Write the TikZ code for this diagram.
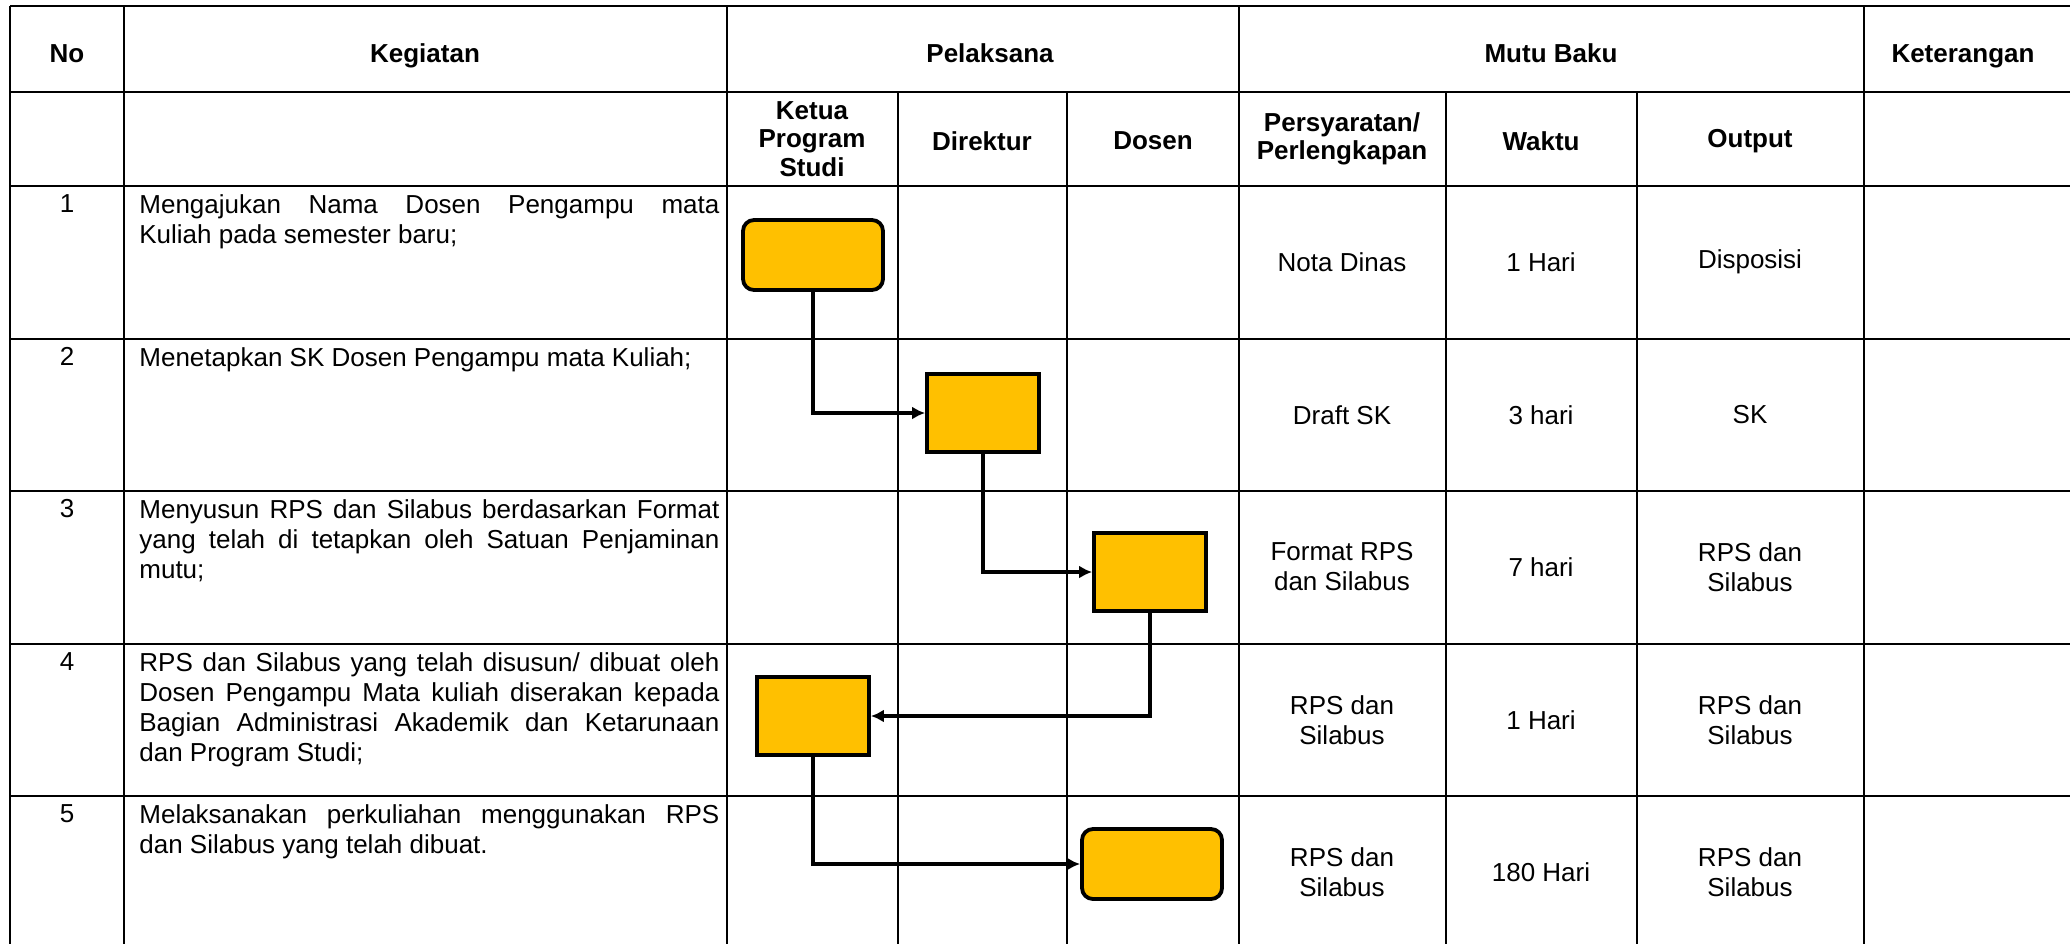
\documentclass[tikz,border=0pt]{standalone}
\usepackage{fontspec}
\setmainfont{Liberation Sans}
\usepackage{tikz}
\usetikzlibrary{positioning, arrows.meta}
\definecolor{boxgold}{HTML}{FFC000}
\newcommand{\tabfont}{\fontsize{13}{15}\selectfont}
\newcommand{\headfont}{\fontsize{13}{14.25}\selectfont\bfseries}
\tikzset{x=0.5pt, y=-0.5pt, >={Latex[length=6.5pt, width=6.5pt]},
	grid/.style={line width=0.9pt},
	flow/.style={->, line width=1.8pt},
	act/.style={rectangle, draw, line width=1.9pt, fill=boxgold, minimum width=56pt, minimum height=39pt},
	term/.style={act, rounded corners=5.5pt, minimum width=70pt, minimum height=35pt},
	head/.style={font=\headfont, align=center, inner sep=0pt},
	cell/.style={font=\tabfont, align=center, inner sep=0pt},
	nomor/.style={font=\tabfont, anchor=north, inner sep=0pt},
	task/.style={font=\tabfont, anchor=north west, inner sep=0pt, text width=290pt, align=justify}}

\begin{document}
\begin{tikzpicture}
	\useasboundingbox (0,0) rectangle (2070,944);
	% table lines
	\draw[grid] (10,6) -- (2070,6) (10,92) -- (2070,92) (10,186) -- (2070,186)
		(10,339) -- (2070,339) (10,491) -- (2070,491) (10,644) -- (2070,644) (10,796) -- (2070,796);
	\draw[grid] (10,6) -- (10,944) (124,6) -- (124,944) (727,6) -- (727,944) (1239,6) -- (1239,944) (1864,6) -- (1864,944)
		(898,92) -- (898,944) (1067,92) -- (1067,944) (1446,92) -- (1446,944) (1637,92) -- (1637,944);

	% header
	\node[head, anchor=base] (No) at (67,62) {No};
	\node[head, anchor=base] (Kegiatan) at (425,62) {Kegiatan};
	\node[head, anchor=base] (Pelaksana) at (990,62) {Pelaksana};
	\node[head, anchor=base] (Mutu Baku) at (1551,62) {Mutu Baku};
	\node[head, anchor=base] (Keterangan) at (1963,62) {Keterangan};
	\node[head] (Ketua) at (812,139) {Ketua\\Program\\Studi};
	\node[head] (Direktur) at (982,141) {Direktur};
	\node[head] (Dosen) at (1153,141) {Dosen};
	\node[head] (Persyaratan) at (1342,139) {Persyaratan/\\Perlengkapan};
	\node[head] (Waktu) at (1541,141) {Waktu};
	\node[head] (Output) at (1750,141) {Output};

	% kegiatan
	\node[nomor] (No 1) at (67,194) {1};
	\node[task] (Keg 1) at (139,194) {Mengajukan Nama Dosen Pengampu mata\linebreak Kuliah pada semester baru;};
	\node[nomor] (No 2) at (67,347) {2};
	\node[task] (Keg 2) at (139,347) {Menetapkan SK Dosen Pengampu mata Kuliah;};
	\node[nomor] (No 3) at (67,499) {3};
	\node[task] (Keg 3) at (139,499) {Menyusun RPS dan Silabus berdasarkan Format\linebreak yang telah di tetapkan oleh Satuan Penjaminan\linebreak mutu;};
	\node[nomor] (No 4) at (67,652) {4};
	\node[task] (Keg 4) at (139,652) {RPS dan Silabus yang telah disusun/ dibuat oleh\linebreak Dosen Pengampu Mata kuliah diserakan kepada\linebreak Bagian Administrasi Akademik dan Ketarunaan\linebreak dan Program Studi;};
	\node[nomor] (No 5) at (67,804) {5};
	\node[task] (Keg 5) at (139,804) {Melaksanakan perkuliahan menggunakan RPS\linebreak dan Silabus yang telah dibuat.};

	% mutu baku
	\node[cell] (Syarat 1) at (1342,262) {Nota Dinas};
	\node[cell] (Waktu 1) at (1541,262) {1 Hari};
	\node[cell] (Output 1) at (1750,262) {Disposisi};
	\node[cell] (Syarat 2) at (1342,415) {Draft SK};
	\node[cell] (Waktu 2) at (1541,415) {3 hari};
	\node[cell] (Output 2) at (1750,415) {SK};
	\node[cell] (Syarat 3) at (1342,567) {Format RPS\\dan Silabus};
	\node[cell] (Waktu 3) at (1541,567) {7 hari};
	\node[cell] (Output 3) at (1750,567) {RPS dan\\Silabus};
	\node[cell] (Syarat 4) at (1342,720) {RPS dan\\Silabus};
	\node[cell] (Waktu 4) at (1541,720) {1 Hari};
	\node[cell] (Output 4) at (1750,720) {RPS dan\\Silabus};
	\node[cell] (Syarat 5) at (1342,872) {RPS dan\\Silabus};
	\node[cell] (Waktu 5) at (1541,872) {180 Hari};
	\node[cell] (Output 5) at (1750,872) {RPS dan\\Silabus};

	% alur
	\node[term] (Ajukan) at (813,255) {};
	\node[act] (Tetapkan SK) at (983,413) {};
	\node[act] (Susun RPS) at (1150,572) {};
	\node[act] (Serah RPS) at (813,716) {};
	\node[term] (Kuliah) at (1152,864) {};
	\draw[flow] (Ajukan) |- (Tetapkan SK);
	\draw[flow] (Tetapkan SK) |- (Susun RPS);
	\draw[flow] (Susun RPS) |- (Serah RPS);
	\draw[flow] (Serah RPS) |- (Kuliah);
\end{tikzpicture}
\end{document}
